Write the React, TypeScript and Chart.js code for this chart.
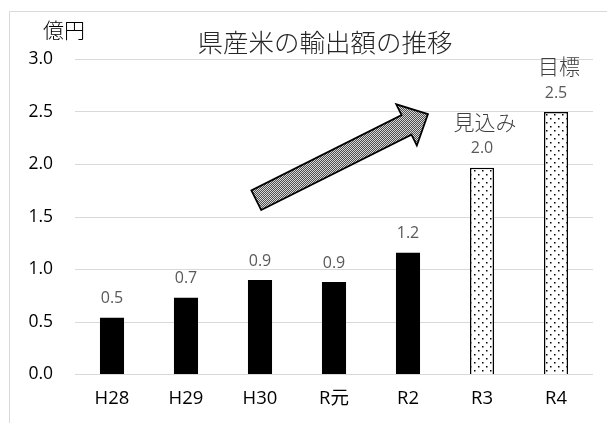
import React, { useEffect, useRef } from "react";
import { Chart, registerables } from "chart.js";

Chart.register(...registerables);

const categories = ["H28", "H29", "H30", "R元", "R2", "R3", "R4"];
const exportValues = [0.54, 0.73, 0.9, 0.88, 1.16, 1.97, 2.5];
const isProjection = [false, false, false, false, false, true, true];
const notes = ["", "", "", "", "", "見込み", "目標"];
const yTicks = [0, 0.5, 1.0, 1.5, 2.0, 2.5, 3.0];
const titleText = "県産米の輸出額の推移";
const unitText = "億円";
// arrow from [category index, value] to [category index, value]
const arrowFrom = [1.95, 1.66];
const arrowTo = [4.27, 2.48];

const FONT = "'Open Sans', 'Noto Sans CJK JP', sans-serif";
const JFONT = "'Noto Sans CJK JP', sans-serif";

function makeDotPattern(): CanvasPattern | string {
  const c = document.createElement("canvas");
  c.width = 8;
  c.height = 8;
  const g = c.getContext("2d");
  if (!g) return "#fff";
  g.fillStyle = "#ffffff";
  g.fillRect(0, 0, 8, 8);
  g.fillStyle = "#000000";
  g.fillRect(2, 2, 1.5, 1.5);
  g.fillRect(6, 6, 1.5, 1.5);
  return g.createPattern(c, "repeat") || "#fff";
}

function makeCheckPattern(): CanvasPattern | string {
  const c = document.createElement("canvas");
  c.width = 2;
  c.height = 2;
  const g = c.getContext("2d");
  if (!g) return "#888";
  g.fillStyle = "#505050";
  g.fillRect(0, 0, 2, 2);
  g.fillStyle = "#d6d6d6";
  g.fillRect(0, 0, 1, 1);
  g.fillRect(1, 1, 1, 1);
  return g.createPattern(c, "repeat") || "#888";
}

export default function App() {
  const ref = useRef<HTMLCanvasElement | null>(null);

  useEffect(() => {
    if (!ref.current) return;
    const dots = makeDotPattern();
    const check = makeCheckPattern();

    const decorations = {
      id: "decorations",
      beforeDraw(chart: any) {
        const ctx = chart.ctx;
        ctx.save();
        ctx.strokeStyle = "#d9d9d9";
        ctx.lineWidth = 1;
        ctx.beginPath();
        ctx.moveTo(9.5, chart.height);
        ctx.lineTo(9.5, 11.5);
        ctx.lineTo(chart.width, 11.5);
        ctx.stroke();
        ctx.restore();
      },
      afterDatasetsDraw(chart: any) {
        const ctx = chart.ctx;
        const meta = chart.getDatasetMeta(0);
        const xs = chart.scales.x;
        const ys = chart.scales.y;
        ctx.save();
        ctx.textAlign = "center";
        ctx.textBaseline = "middle";
        meta.data.forEach((bar: any, i: number) => {
          ctx.fillStyle = "#595959";
          ctx.font = `16px ${FONT}`;
          ctx.fillText(exportValues[i].toFixed(1), bar.x, bar.y - 19);
          if (notes[i]) {
            ctx.fillStyle = "#404040";
            ctx.font = `300 21px ${JFONT}`;
            ctx.fillText(notes[i], bar.x + 3, bar.y - 46);
          }
        });
        ctx.fillStyle = "#262626";
        ctx.font = `300 25.5px ${JFONT}`;
        ctx.fillText(titleText, 325, 42);
        ctx.fillStyle = "#000";
        ctx.font = `300 21px ${JFONT}`;
        ctx.fillText(unitText, 64, 30);

        // arrow
        const tx = xs.getPixelForValue(arrowFrom[0]);
        const ty = ys.getPixelForValue(arrowFrom[1]);
        const px = xs.getPixelForValue(arrowTo[0]);
        const py = ys.getPixelForValue(arrowTo[1]);
        const len = Math.hypot(px - tx, py - ty);
        const ux = (px - tx) / len;
        const uy = (py - ty) / len;
        const nx = -uy;
        const ny = ux;
        const hw = 11;
        const hhw = 23;
        const hl = 24;
        const hx = px - ux * hl;
        const hy = py - uy * hl;
        ctx.beginPath();
        ctx.moveTo(tx + nx * hw, ty + ny * hw);
        ctx.lineTo(hx + nx * hw, hy + ny * hw);
        ctx.lineTo(hx + nx * hhw, hy + ny * hhw);
        ctx.lineTo(px, py);
        ctx.lineTo(hx - nx * hhw, hy - ny * hhw);
        ctx.lineTo(hx - nx * hw, hy - ny * hw);
        ctx.lineTo(tx - nx * hw, ty - ny * hw);
        ctx.closePath();
        ctx.fillStyle = check;
        ctx.fill();
        ctx.strokeStyle = "#000";
        ctx.lineWidth = 1.75;
        ctx.lineJoin = "miter";
        ctx.stroke();
        ctx.restore();
      },
    };

    const chart = new Chart(ref.current, {
      type: "bar",
      data: {
        labels: categories,
        datasets: [
          {
            data: exportValues,
            backgroundColor: isProjection.map((p) => (p ? dots : "#000000")),
            borderColor: "#000000",
            borderWidth: isProjection.map((p) => (p ? 1.5 : 0)),
            barPercentage: 0.325,
            categoryPercentage: 1,
          },
        ],
      },
      options: {
        responsive: false,
        animation: false,
        events: [],
        layout: { padding: { top: 59.5, right: 14, bottom: 0, left: 0 } },
        plugins: {
          legend: { display: false },
          title: { display: false },
          tooltip: { enabled: false },
        },
        scales: {
          x: {
            grid: { display: false, drawTicks: false },
            border: { display: false },
            ticks: {
              color: "#000",
              font: { family: FONT, size: 18.5 },
              padding: 13,
              maxRotation: 0,
            },
            afterFit(scale: any) {
              scale.height = 48.5;
            },
          },
          y: {
            min: 0,
            max: 3,
            afterBuildTicks(scale: any) {
              scale.ticks = yTicks.map((v) => ({ value: v }));
            },
            grid: { color: "#d9d9d9", lineWidth: 1, drawTicks: false },
            border: { display: false },
            ticks: {
              color: "#000",
              font: { family: FONT, size: 17.5 },
              padding: 22,
              callback: (v: any) => Number(v).toFixed(1),
            },
            afterFit(scale: any) {
              scale.width = 75;
            },
          },
        },
      },
      plugins: [decorations],
    });
    return () => chart.destroy();
  }, []);

  return (
    <div style={{ position: "fixed", left: 0, top: 0, width: 607, height: 423, background: "#fff" }}>
      <canvas ref={ref} width={607} height={423} style={{ width: 607, height: 423, display: "block" }} />
    </div>
  );
}
